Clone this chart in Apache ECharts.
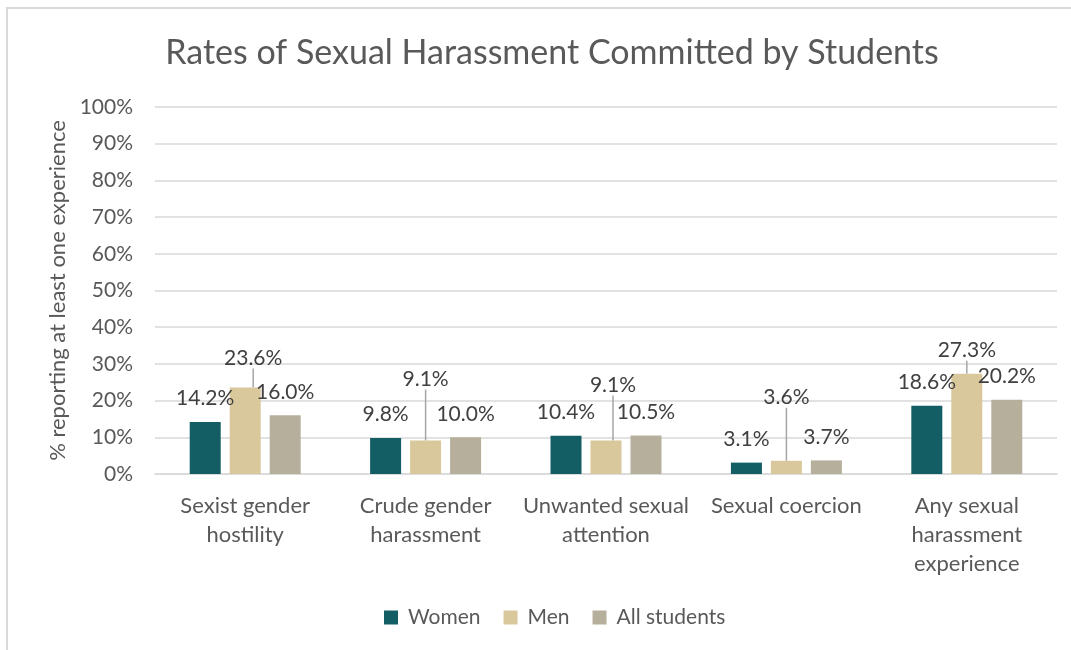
<!DOCTYPE html>
<html>
<head>
<meta charset="utf-8">
<script src="https://cdn.jsdelivr.net/npm/echarts@6/dist/echarts.min.js"></script>
<style>
  html, body { margin: 0; padding: 0; background: #fff; overflow: hidden; }
  #frame { position: absolute; left: 6px; top: 7px; width: 3000px; height: 3000px;
           border-left: 2px solid #d9d9d9; border-top: 2px solid #d9d9d9; }
  #chart { position: absolute; left: 0; top: 0; width: 1071px; height: 650px; }
</style>
</head>
<body>
<div id="frame"></div>
<div id="chart"></div>
<script>
const titleText = 'Rates of Sexual Harassment Committed by Students';
const yAxisTitle = '% reporting at least one experience';
const categories = [
  'Sexist gender\nhostility',
  'Crude gender\nharassment',
  'Unwanted sexual\nattention',
  'Sexual coercion',
  'Any sexual\nharassment\nexperience'
];
const seriesNames = ['Women', 'Men', 'All students'];
const women = [14.2, 9.8, 10.4, 3.1, 18.6];
const men = [23.6, 9.1, 9.1, 3.6, 27.3];
const allStudents = [16.0, 10.0, 10.5, 3.7, 20.2];

// label nudges for the Men series (moved labels with leader lines)
const menLabelShift = [[8, -6], [0, -38], [7, -32], [0, -40], [0, 0]];

const FONT = 'Lato';
const colors = ['#135e64', '#d9c89b', '#b6af9c'];

const chart = echarts.init(document.getElementById('chart'), null, { renderer: 'canvas' });

function labelCfg() {
  return {
    show: true, position: 'top', distance: 13,
    formatter: p => p.value.toFixed(1) + '%',
    color: '#404040', fontSize: 21, fontFamily: FONT
  };
}

const option = {
  animation: false,
  color: colors,
  textStyle: { fontFamily: FONT },
  title: {
    text: titleText, left: 547, top: 31, textAlign: 'center',
    textStyle: { color: '#595959', fontSize: 34, fontWeight: 'normal', fontFamily: FONT }
  },
  legend: {
    bottom: 17, left: 379, itemWidth: 14, itemHeight: 14, itemGap: 23,
    icon: 'rect',
    textStyle: { color: '#595959', fontSize: 21, fontFamily: FONT, padding: [0, 0, 0, 5] },
    data: seriesNames
  },
  grid: { left: 155, right: 14, top: 107, bottom: 176, containLabel: false },
  xAxis: {
    type: 'category', data: categories,
    axisLine: { lineStyle: { color: '#d9d9d9', width: 1.5 } },
    axisTick: { show: false },
    axisLabel: { color: '#595959', fontSize: 22, fontFamily: FONT, lineHeight: 29, margin: 17, interval: 0 }
  },
  yAxis: {
    type: 'value', min: 0, max: 100, interval: 10,
    name: yAxisTitle, nameLocation: 'middle', nameGap: 84, nameRotate: 90,
    nameTextStyle: { color: '#595959', fontSize: 22, fontFamily: FONT },
    axisLabel: { formatter: '{value}%', color: '#595959', fontSize: 21, fontFamily: FONT, margin: 22 },
    axisLine: { show: false }, axisTick: { show: false },
    splitLine: { lineStyle: { color: '#d9d9d9', width: 1.5 } }
  },
  series: [
    { name: seriesNames[0], type: 'bar', data: women, barWidth: 31, barGap: '29%', label: labelCfg() },
    { name: seriesNames[1], type: 'bar', data: men, barWidth: 31, barGap: '29%', label: labelCfg(),
      labelLine: { show: true, lineStyle: { color: '#a6a6a6', width: 1.5 } },
      labelLayout: function (params) {
        const s = menLabelShift[params.dataIndex];
        return { dx: s[0], dy: s[1] };
      }
    },
    { name: seriesNames[2], type: 'bar', data: allStudents, barWidth: 31, barGap: '29%', label: labelCfg() }
  ]
};
chart.setOption(option);
</script>
</body>
</html>
